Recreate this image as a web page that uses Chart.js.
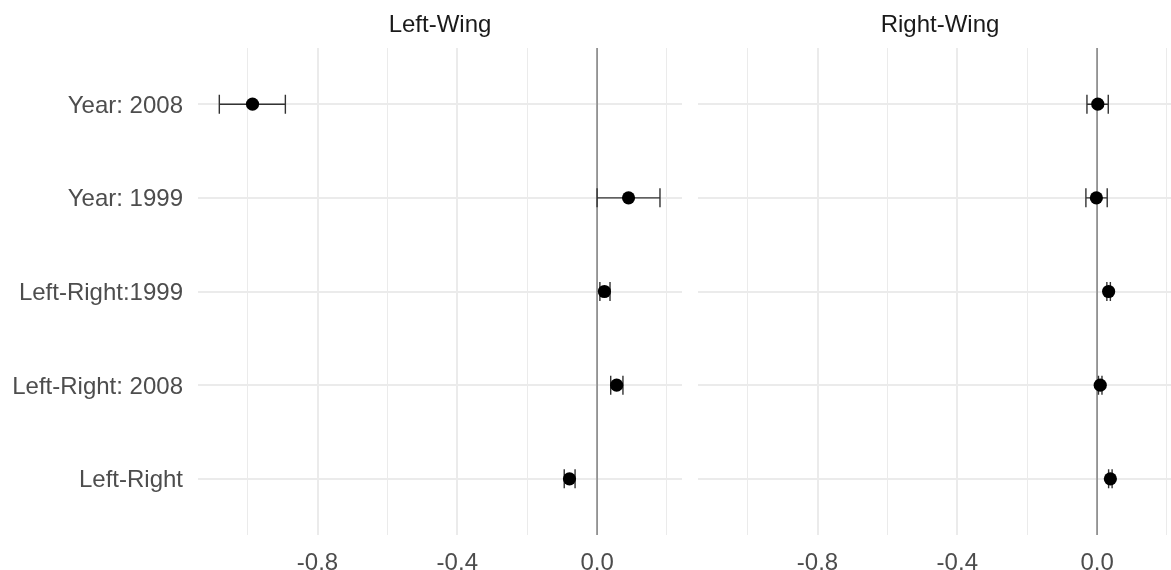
<!DOCTYPE html>
<html>
<head>
<meta charset="utf-8">
<script src="https://cdn.jsdelivr.net/npm/chart.js@4/dist/chart.umd.min.js"></script>
<style>
  html, body { margin: 0; padding: 0; overflow: hidden; background: #fff; }
  #wrap { position: relative; width: 1171px; height: 570px; overflow: hidden; }
  canvas { position: absolute; top: 0; }
  #leftChart { left: 0; }
  #rightChart { left: 698px; }
</style>
</head>
<body>
<div id="wrap">
  <canvas id="leftChart" width="682" height="570"></canvas>
  <canvas id="rightChart" width="484" height="570"></canvas>
</div>
<script>
// --- DATA ---
const terms = ['Year: 2008', 'Year: 1999', 'Left-Right:1999', 'Left-Right: 2008', 'Left-Right'];
const panelTitles = ['Left-Wing', 'Right-Wing'];

const leftEst  = [-0.986, 0.090, 0.021, 0.056, -0.079];
const leftLow  = [-1.081, 0.000, 0.008, 0.039, -0.094];
const leftHigh = [-0.892, 0.180, 0.037, 0.074, -0.063];

const rightEst  = [0.002, -0.002, 0.033, 0.009, 0.038];
const rightLow  = [-0.029, -0.032, 0.028, 0.004, 0.033];
const rightHigh = [0.032, 0.029, 0.038, 0.014, 0.043];

const xTicks = [-1.0, -0.8, -0.6, -0.4, -0.2, 0.0, 0.2];
const xMajor = [-0.8, -0.4, 0.0];
const xMin = -1.142, xMax = 0.243;

// --- SETUP ---
const FONT = '"Liberation Sans", Arial, Helvetica, sans-serif';
const GRID = '#EBEBEB';

function isMajor(v) {
    return xMajor.some(m => Math.abs(m - v) < 1e-9);
}

// error bars + zero reference line, drawn under the points
const errorBarPlugin = {
    id: 'errorBars',
    beforeDatasetsDraw(chart, args, opts) {
        const ctx = chart.ctx;
        const xs = chart.scales.x, ys = chart.scales.y;
        const area = chart.chartArea;

        // vertical line at zero
        const x0 = xs.getPixelForValue(0);
        ctx.save();
        ctx.strokeStyle = '#7F7F7F';
        ctx.lineWidth = 1.5;
        ctx.beginPath();
        ctx.moveTo(x0, area.top);
        ctx.lineTo(x0, area.bottom);
        ctx.stroke();

        ctx.strokeStyle = '#333333';
        ctx.lineWidth = 1.4;
        opts.low.forEach((lo, i) => {
            const y = ys.getPixelForValue(i);
            const xl = xs.getPixelForValue(lo);
            const xh = xs.getPixelForValue(opts.high[i]);
            const cap = 9.5;
            ctx.beginPath();
            ctx.moveTo(xl, y); ctx.lineTo(xh, y);
            ctx.moveTo(xl, y - cap); ctx.lineTo(xl, y + cap);
            ctx.moveTo(xh, y - cap); ctx.lineTo(xh, y + cap);
            ctx.stroke();
        });
        ctx.restore();
    }
};

function buildChart(canvasId, title, est, low, high, showLabels) {
    return new Chart(document.getElementById(canvasId), {
        type: 'scatter',
        data: {
            datasets: [{
                data: est.map((v, i) => ({ x: v, y: i })),
                backgroundColor: '#000000',
                borderWidth: 0,
                pointRadius: 6.6,
                pointHoverRadius: 6.6
            }]
        },
        options: {
            responsive: false,
            animation: false,
            devicePixelRatio: 1,
            layout: { padding: 0, autoPadding: false },
            plugins: {
                legend: { display: false },
                tooltip: { enabled: false },
                title: {
                    display: true,
                    text: title,
                    fullSize: false,
                    color: '#1A1A1A',
                    font: { family: FONT, size: 24, weight: 'normal' },
                    padding: { top: 11, bottom: 8.2 }
                },
                errorBars: { low: low, high: high }
            },
            scales: {
                x: {
                    type: 'linear',
                    min: xMin,
                    max: xMax,
                    afterBuildTicks: scale => { scale.ticks = xTicks.map(v => ({ value: v })); },
                    afterFit: scale => {
                        scale.height = 35;
                        scale.paddingLeft = 0;
                        scale.paddingRight = 0;
                    },
                    border: { display: false },
                    grid: {
                        color: GRID,
                        drawTicks: false,
                        lineWidth: c => (c.tick && isMajor(c.tick.value)) ? 2 : 1
                    },
                    ticks: {
                        padding: 14,
                        color: '#4D4D4D',
                        font: { family: FONT, size: 24 },
                        maxRotation: 0,
                        autoSkip: false,
                        callback: v => isMajor(v) ? v.toFixed(1) : ''
                    }
                },
                y: {
                    type: 'linear',
                    reverse: true,
                    min: -0.6,
                    max: terms.length - 0.4,
                    afterBuildTicks: scale => { scale.ticks = terms.map((t, i) => ({ value: i })); },
                    afterFit: scale => {
                        scale.width = showLabels ? 198 : 0;
                        scale.paddingTop = 0;
                        scale.paddingBottom = 0;
                    },
                    border: { display: false },
                    grid: { color: GRID, lineWidth: 2, drawTicks: false },
                    ticks: {
                        display: showLabels,
                        padding: 15,
                        labelOffset: 2,
                        color: '#4D4D4D',
                        font: { family: FONT, size: 24 },
                        autoSkip: false,
                        callback: v => terms[v]
                    }
                }
            }
        },
        plugins: [errorBarPlugin]
    });
}

buildChart('leftChart', panelTitles[0], leftEst, leftLow, leftHigh, true);
buildChart('rightChart', panelTitles[1], rightEst, rightLow, rightHigh, false);
</script>
</body>
</html>
